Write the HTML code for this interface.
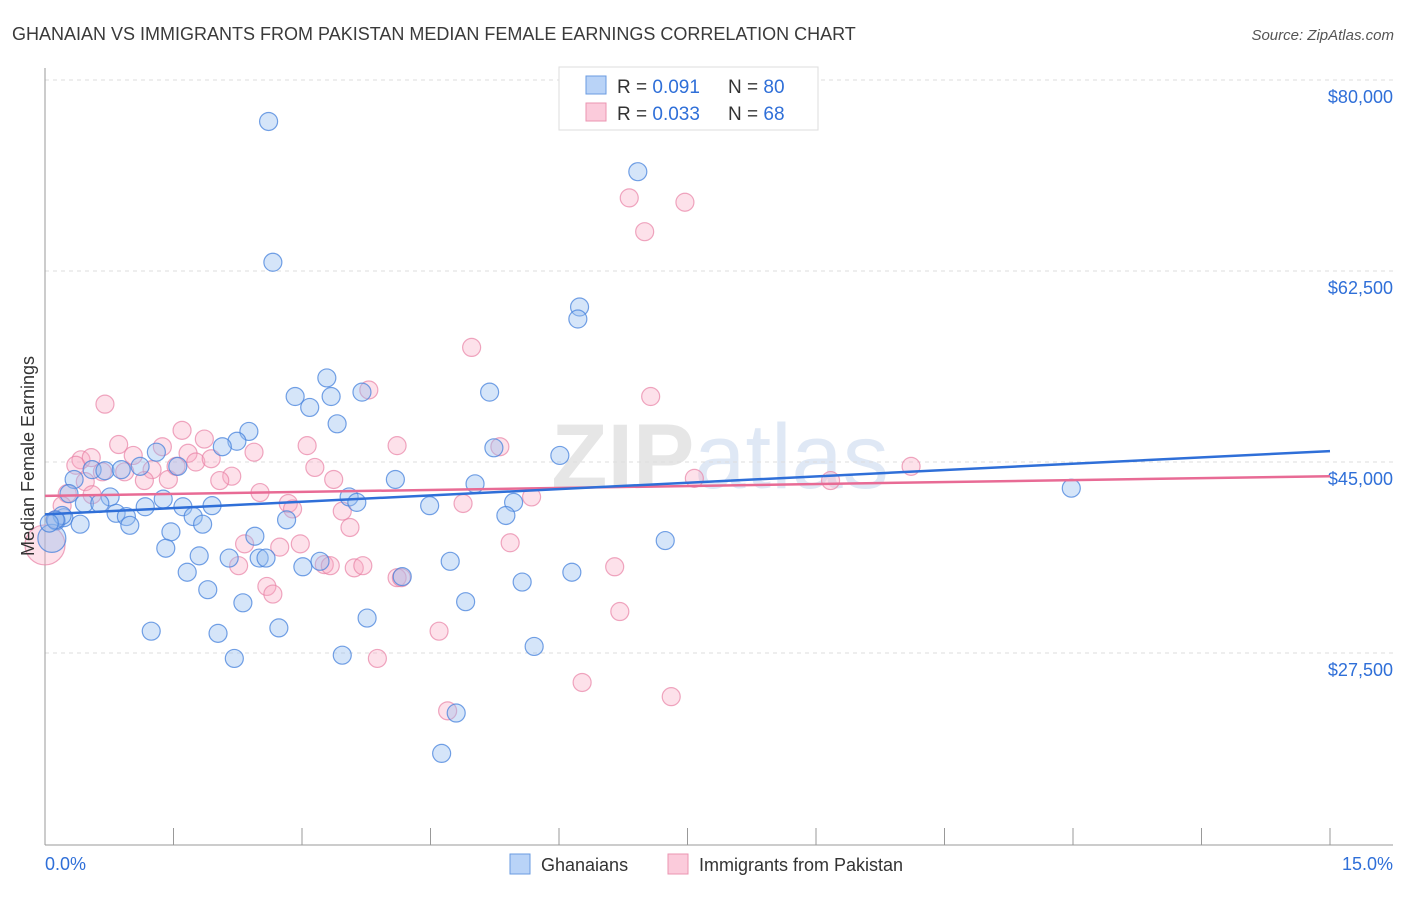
<!DOCTYPE html>
<html><head><meta charset="utf-8"><style>
body{margin:0;background:#fff;font-family:"Liberation Sans",sans-serif}
svg text{font-family:"Liberation Sans",sans-serif}
</style></head><body>
<svg id="chart" width="1406" height="892" xmlns="http://www.w3.org/2000/svg">
<text x="12" y="40" font-size="18" fill="#3a3a3a">GHANAIAN VS IMMIGRANTS FROM PAKISTAN MEDIAN FEMALE EARNINGS CORRELATION CHART</text>
<text x="1394" y="40" font-size="15" fill="#555" text-anchor="end" font-style="italic">Source: ZipAtlas.com</text>
<text x="720" y="488" font-size="92" fill="#e6e6e6" text-anchor="middle" font-weight="bold">ZIP<tspan fill="#dfe8f5" font-weight="normal">atlas</tspan></text>
<g id="grid"></g>
<g id="axes"></g>
<g id="pts"></g>
<g id="trend"></g>
<text transform="translate(34,456) rotate(-90)" font-size="18" fill="#333" text-anchor="middle">Median Female Earnings</text>
<g>
<rect x="559" y="67" width="259" height="63" fill="#fff" stroke="#ddd"/>
<rect x="586" y="76" width="20" height="18" fill="#b9d3f7" stroke="#6a9be0"/>
<rect x="586" y="103" width="20" height="18" fill="#fbcbdb" stroke="#eb95b2"/>
<text x="617" y="93" font-size="19" fill="#333">R = <tspan fill="#2f6fd8">0.091</tspan><tspan x="728">N = </tspan><tspan fill="#2f6fd8">80</tspan></text>
<text x="617" y="120" font-size="19" fill="#333">R = <tspan fill="#2f6fd8">0.033</tspan><tspan x="728">N = </tspan><tspan fill="#2f6fd8">68</tspan></text>
</g>
<g>
<rect x="510" y="854" width="20" height="20" fill="#b9d3f7" stroke="#6a9be0"/>
<text x="541" y="871" font-size="18" fill="#333">Ghanaians</text>
<rect x="668" y="854" width="20" height="20" fill="#fbcbdb" stroke="#eb95b2"/>
<text x="699" y="871" font-size="18" fill="#333">Immigrants from Pakistan</text>
</g>
</svg>
<script>
const yTicks=[80000,62500,45000,27500];
const yTickLabels=["$80,000","$62,500","$45,000","$27,500"];
const xEndLabels=["0.0%","15.0%"];
const blueX=[2.61,2.66,6.92,6.24,6.22,3.29,2.92,3.09,3.34,3.70,5.19,3.41,2.38,2.24,2.07,1.30,5.24,6.01,0.34,0.55,0.70,1.11,0.89,1.55,4.09,5.02,0.76,0.28,1.38,3.55,3.64,4.49,5.47,0.46,0.64,1.17,1.61,1.95,0.83,0.95,1.73,5.38,0.22,0.13,0.41,0.99,1.84,2.82,1.47,2.45,11.98,1.41,7.24,1.80,2.15,2.50,2.58,3.21,3.01,4.73,1.66,4.17,5.57,6.15,1.90,2.31,4.91,3.76,1.24,2.02,2.73,2.21,3.47,5.71,4.80,4.63,0.08,0.20,0.12,0.05];
const blueY=[76200,63300,71600,59200,58100,52700,51000,50000,51000,51400,51400,48500,47800,46900,46400,45900,46300,45600,43400,44300,44200,44600,44300,44600,43400,43000,41800,42100,41600,41800,41300,41000,41300,41200,41200,40900,40900,41000,40300,40000,40000,40100,39900,39600,39300,39200,39300,39700,38600,38200,42600,37100,37800,36400,36200,36200,36200,35900,35400,35900,34900,34500,34000,34900,33300,32100,32200,30700,29500,29300,29800,27000,27300,28100,22000,18300,38000,40100,39700,39400];
const blueR=[9,9,9,9,9,9,9,9,9,9,9,9,9,9,9,9,9,9,9,9,9,9,9,9,9,9,9,9,9,9,9,9,9,9,9,9,9,9,9,9,9,9,9,9,9,9,9,9,9,9,9,9,9,9,9,9,9,9,9,9,9,9,9,9,9,9,9,9,9,9,9,9,9,9,9,9,14,9,9,9];
const pinkX=[6.82,7.47,7.00,4.98,3.78,7.07,0.70,1.60,1.86,1.37,3.06,4.11,5.31,0.86,1.03,1.67,2.44,0.42,0.54,0.36,0.67,0.93,1.25,1.44,1.76,1.94,1.53,2.18,2.04,3.15,3.37,0.47,1.16,7.58,9.17,10.11,2.51,0.26,0.20,0.55,2.84,2.89,5.68,4.88,3.47,3.56,2.33,2.74,2.98,5.43,2.26,3.26,3.33,3.61,3.71,6.65,4.11,4.16,2.59,2.66,6.71,4.60,3.88,6.27,7.31,4.70,0.0,0.12];
const pinkY=[69200,68800,66100,55500,51600,51000,50300,47900,47100,46400,46500,46500,46400,46600,45600,45800,45900,45200,45400,44700,44100,44100,44300,43400,45000,45300,44600,43700,43300,44500,43400,43200,43300,43500,43300,44600,42200,42100,41000,42000,41200,40700,41800,41200,40500,39000,37500,37200,37500,37600,35500,35600,35500,35300,35500,35400,34400,34400,33600,32900,31300,29500,27000,24800,23500,22200,37400,39700];
const pinkR=pinkX.map(()=>9);pinkR[66]=20;
const trendStart=[40200,41900];
const trendEnd=[46000,43700];
const NS="http://www.w3.org/2000/svg";
const xs=p=>45+p*(1330-45)/15;
const ys=v=>80+(80000-v)*191/17500;
function mk(t,a,parent){const e=document.createElementNS(NS,t);for(const k in a)e.setAttribute(k,a[k]);parent.appendChild(e);return e;}
const grid=document.getElementById('grid'),axes=document.getElementById('axes'),pts=document.getElementById('pts'),trend=document.getElementById('trend');
yTicks.forEach((v,i)=>{
 const l=mk('line',{x1:45,x2:1393,y1:ys(v),y2:ys(v),stroke:'#ddd','stroke-dasharray':'4,4'},grid);
 
 
 const t=mk('text',{x:1393,y:ys(v)+23,'font-size':18,fill:'#2f6fd8','text-anchor':'end'},grid);
 t.textContent=yTickLabels[i];
 
 
});
const ax=mk('line',{x1:45,x2:1393,y1:845,y2:845,stroke:'#999'},axes);


const ay=mk('line',{x1:45,x2:45,y1:68,y2:845,stroke:'#999'},axes);


for(let i=0;i<=10;i++){
 const tk=mk('line',{x1:xs(i*1.5),x2:xs(i*1.5),y1:828,y2:845,stroke:'#999'},axes);
 
 
}
[0,15].forEach((p,i)=>{
 const t=mk('text',{x:i?1393:45,y:870,'font-size':18,fill:'#2f6fd8','text-anchor':i?'end':'start'},axes);
 t.textContent=xEndLabels[i];
 
 
});
function series(X,Y,R,fill,stroke,name){
 X.forEach((x,i)=>{
  const c=mk('circle',{cx:xs(x),cy:ys(Y[i]),r:R[i],fill:fill,stroke:stroke,'stroke-width':1.2},pts);
  
  
 });
}
series(pinkX,pinkY,pinkR,'rgba(248,170,196,0.35)','rgba(232,130,165,0.7)','pakistan-point');
series(blueX,blueY,blueR,'rgba(150,190,240,0.4)','rgba(70,130,220,0.75)','ghanaian-point');
const cols=['#2f6fd8','#e86b95'];
const names=['ghanaian-trend-line','pakistan-trend-line'];
[1,0].forEach(i=>{
 const l=mk('line',{x1:xs(0),x2:xs(15),y1:ys(trendStart[i]),y2:ys(trendEnd[i]),stroke:cols[i],'stroke-width':2.5},trend);
 
 
});
</script>
</body></html>
